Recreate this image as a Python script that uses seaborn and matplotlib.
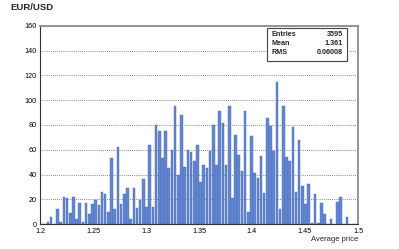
import numpy as np
import matplotlib
matplotlib.use("Agg")
import matplotlib.pyplot as plt
from matplotlib.ticker import MultipleLocator
from matplotlib.patches import Rectangle
import seaborn as sns

# === Data: EUR/USD average price histogram (100 bins, 1.2 .. 1.5) ===
x_min, x_max, n_bins = 1.2, 1.5, 100
counts = [
    0, 0, 2, 6, 0, 12, 2, 22, 21, 9,
    22, 4, 17, 2, 17, 8, 16, 19, 15, 26,
    24, 10, 53, 12, 62, 16, 24, 29, 4, 29,
    13, 19, 36, 14, 64, 14, 80, 75, 53, 75,
    45, 60, 95, 40, 88, 46, 60, 58, 51, 64,
    34, 48, 45, 59, 80, 48, 91, 82, 48, 95,
    21, 72, 56, 43, 91, 10, 71, 41, 37, 55,
    25, 86, 79, 59, 115, 12, 95, 54, 51, 78,
    26, 68, 31, 16, 32, 1, 24, 1, 17, 8,
    0, 4, 0, 18, 22, 0, 6, 0, 0, 0,
]
stat_names = ["Entries", "Mean", "RMS"]
stat_values = ["3595", "1.361", "0.06008"]
title = "EUR/USD"
xlabel = "Average price"

edges = np.linspace(x_min, x_max, n_bins + 1)
centers = (edges[:-1] + edges[1:]) / 2

# === Style ===
sns.set_style("white")
plt.rcParams["font.family"] = ["Liberation Sans", "DejaVu Sans"]

W, H = 399, 249
fig = plt.figure(figsize=(W / 100, H / 100), dpi=100)
ax = fig.add_axes([40 / W, 1 - 224 / H, 318 / W, 198 / H])

sns.histplot(x=centers, weights=counts, bins=n_bins, binrange=(x_min, x_max),
             shrink=0.82, color="#6287d0", edgecolor="#4a6ab8", linewidth=0.3,
             alpha=1.0, ax=ax)

ax.set_xlim(x_min, x_max)
ax.set_ylim(0, 160)
ax.xaxis.set_major_locator(MultipleLocator(0.05))
ax.xaxis.set_minor_locator(MultipleLocator(0.01))
ax.yaxis.set_major_locator(MultipleLocator(20))
ax.yaxis.set_minor_locator(MultipleLocator(4))
ax.set_xticks([1.2, 1.25, 1.3, 1.35, 1.4, 1.45, 1.5])
ax.set_xticklabels(["1.2", "1.25", "1.3", "1.35", "1.4", "1.45", "1.5"])

ax.tick_params(which="both", direction="in", colors="#333333", labelcolor="black",
               labelsize=5.2, top=False, right=False)
ax.tick_params(which="major", length=5, width=0.6)
ax.tick_params(which="minor", length=2.5, width=0.5)
ax.tick_params(axis="y", pad=2.5)
ax.tick_params(axis="x", pad=3)

ax.set_axisbelow(True)
ax.yaxis.grid(True, which="major", linestyle=(0, (1, 1.5)), color="#666666", linewidth=0.6)
ax.xaxis.grid(False)

for side in ["left", "bottom"]:
    ax.spines[side].set_color("#333333")
    ax.spines[side].set_linewidth(0.8)
for side in ["top", "right"]:
    ax.spines[side].set_color("#8c8c8c")
    ax.spines[side].set_linewidth(1.3)

ax.set_ylabel("")
ax.set_xlabel(xlabel, fontsize=5.5, loc="right", labelpad=0.5)

fig.text(10 / W, 1 - 8 / H, title, fontsize=6.8, fontweight="bold", ha="left", va="center")

# === Stats box ===
bx0, bx1, by0, by1 = 267, 347, 28, 61
fig.add_artist(Rectangle((bx0 / W, 1 - by1 / H), (bx1 - bx0) / W, (by1 - by0) / H,
                         transform=fig.transFigure, facecolor="white",
                         edgecolor="#444444", linewidth=0.8, zorder=5))
for i, (name, val) in enumerate(zip(stat_names, stat_values)):
    yy = 1 - (35 + 8.8 * i) / H
    fig.text(271 / W, yy, name, fontsize=5.2, fontweight="bold", ha="left", va="center", zorder=6)
    fig.text(343 / W, yy, val, fontsize=5.2, fontweight="bold", ha="right", va="center", zorder=6)

fig.savefig("out.png", dpi=100)
